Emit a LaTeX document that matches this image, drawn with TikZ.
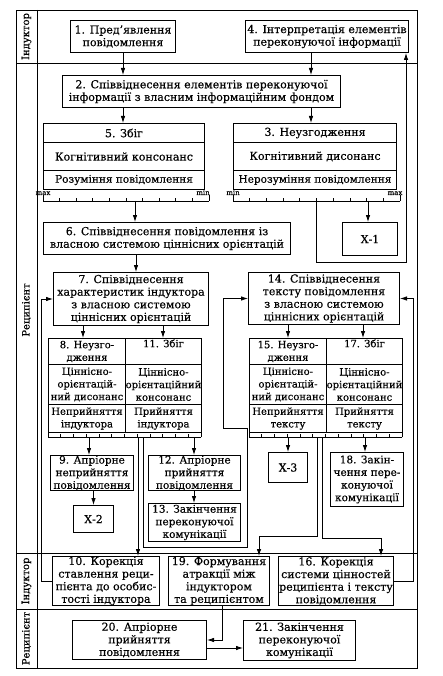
\documentclass[tikz,border=0pt]{standalone}
\usepackage{fontspec}
\setmainfont{DejaVu Serif}[FakeBold=0.4]
\usetikzlibrary{arrows.meta,calc}
\newcommand{\tickscale}[4]{%
  \draw[ln] (#1,#3) -- (#2,#3);
  \foreach \i in {0,...,#4} {\draw[ln] ({#1+(#2-#1)*\i/#4},#3) -- ++(0,-3);}
  \draw[ln] (#1,#3) -- ++(0,-6);
  \draw[ln] (#2,#3) -- ++(0,-6);
}
\begin{document}
\begin{tikzpicture}[x=1pt,y=-1pt,
  every node/.style={font=\fontsize{11}{12.6}\selectfont},
  box/.style={draw, line width=1pt, align=center, inner sep=0pt, anchor=north west},
  nar/.style={font=\fontsize{10}{12.6}\selectfont},
  mid/.style={font=\fontsize{10.5}{12.6}\selectfont},
  arr/.style={line width=0.8pt, -{Latex[length=7pt,width=4.5pt]}},
  ln/.style={line width=0.7pt},
  frm/.style={line width=0.8pt},
  lane/.style={rotate=90, font=\fontsize{10}{11}\selectfont},
  sc/.style={font=\fontsize{7}{8}\selectfont, inner sep=0pt, anchor=base},
]
\useasboundingbox (0,0) rectangle (443,676);

% frame and lanes
\draw[frm] (16,10) rectangle (417,668);
\draw[frm] (37,10) -- (37,668);
\draw[frm] (16,63) -- (417,63);
\draw[frm] (16,553) -- (417,553);
\draw[frm] (16,609) -- (417,609);
\node[lane] (l1) at (26.5,36.5) {Індуктор};
\node[lane] (l2) at (26.5,310) {Реципієнт};
\node[lane] (l3) at (26.5,581) {Індуктор};
\node[lane] (l4) at (26.5,638.5) {Реципієнт};

% top lane
\node[box, minimum width=105pt, minimum height=32pt] (b1) at (70,20) {1. Пред’явлення\\повідомлення};
\node[box, minimum width=163pt, minimum height=32pt] (b4) at (245,20) {4. Інтерпретація елементів\\переконуючої інформації};

% block 2
\node[box, minimum width=278pt, minimum height=32pt] (b2) at (62,75) {2. Співвіднесення елементів переконуючої\\інформації з власним інформаційним фондом};

% blocks 5 and 3
\node[box, minimum width=161pt, minimum height=19pt] (b5h) at (43,123) {5. Збіг};
\node[box, minimum width=161pt, minimum height=28pt] (b5m) at (43,142) {Когнітивний консонанс};
\node[box, mid, minimum width=161pt, minimum height=19pt] (b5b) at (43,170) {Розуміння повідомлення};
\node[box, minimum width=163pt, minimum height=19pt] (b3h) at (233,123) {3. Неузгодження};
\node[box, minimum width=163pt, minimum height=28pt] (b3m) at (233,142) {Когнітивний дисонанс};
\node[box, mid, minimum width=163pt, minimum height=19pt] (b3b) at (233,170) {Нерозуміння повідомлення};

\tickscale{43}{209}{201}{10}
\node[sc] (m5a) at (43,195) {max};
\node[sc] (m5b) at (203,195) {min};
\tickscale{233}{400}{201}{10}
\node[sc] (m3a) at (233,195) {min};
\node[sc] (m3b) at (395,195) {max};
\coordinate (s5) at (135,201);
\coordinate (s3a) at (368,201);
\coordinate (s3b) at (316,201);
\coordinate (c1) at (406,262);

% block 6 and X-1
\node[box, minimum width=247pt, minimum height=32pt] (b6) at (43,222) {6. Співвіднесення повідомлення із\\власною системою ціннісних орієнтацій};
\node[box, minimum width=55pt, minimum height=33pt] (x1) at (342,222) {Х-1};

% blocks 7 and 14
\node[box, minimum width=155pt, minimum height=53pt] (b7) at (53,272) {7. Співвіднесення\\характеристик індуктора\\з власною системою\\ціннісних орієнтацій};
\node[box, minimum width=151pt, minimum height=52pt] (b14) at (248,272) {14. Співвіднесення\\тексту повідомлення\\з власною системою\\ціннісних орієнтацій};

% blocks 8, 11
\node[box, nar, minimum width=77pt, minimum height=26pt] (b8h) at (48,338) {8. Неузго-\\дження};
\node[box, nar, minimum width=77pt, minimum height=40pt] (b8m) at (48,364) {Ціннісно-\\орієнтацій-\\ний дисонанс};
\node[box, nar, minimum width=77pt, minimum height=28pt] (b8b) at (48,404) {Неприйняття\\індуктора};
\node[box, nar, minimum width=76pt, minimum height=26pt] (b11h) at (125,338) {11. Збіг\\\strut};
\node[box, nar, minimum width=76pt, minimum height=40pt] (b11m) at (125,364) {Ціннісно-\\орієнтаційний\\консонанс};
\node[box, nar, minimum width=76pt, minimum height=28pt] (b11b) at (125,404) {Прийняття\\індуктора};

% blocks 15, 17
\node[box, nar, minimum width=77pt, minimum height=26pt] (b15h) at (249,338) {15. Неузго-\\дження};
\node[box, nar, minimum width=77pt, minimum height=40pt] (b15m) at (249,364) {Ціннісно-\\орієнтацій-\\ний дисонанс};
\node[box, nar, minimum width=77pt, minimum height=28pt] (b15b) at (249,404) {Неприйняття\\тексту};
\node[box, nar, minimum width=76pt, minimum height=26pt] (b17h) at (326,338) {17. Збіг\\\strut};
\node[box, nar, minimum width=76pt, minimum height=40pt] (b17m) at (326,364) {Ціннісно-\\орієнтаційний\\консонанс};
\node[box, nar, minimum width=76pt, minimum height=28pt] (b17b) at (326,404) {Прийняття\\тексту};

\tickscale{48}{201}{437}{12}
\tickscale{249}{402}{437}{12}
\coordinate (s8a) at (89,437);
\coordinate (s8b) at (138,437);
\coordinate (s8c) at (143,437);
\coordinate (s8d) at (194,437);
\coordinate (s15a) at (288,437);
\coordinate (s15b) at (317,437);
\coordinate (s15c) at (322,437);
\coordinate (s15d) at (365,437);
\coordinate (c2) at (247,547);
\coordinate (c3) at (223,428);
\coordinate (c4) at (259,536);
\coordinate (c5) at (381,538);

% lower blocks
\node[box, mid, minimum width=83pt, minimum height=35pt] (b9) at (50,455) {9. Апріорне\\неприйняття\\повідомлення};
\node[box, minimum width=40pt, minimum height=27pt] (x2) at (73,505) {Х-2};
\node[box, mid, minimum width=92pt, minimum height=35pt] (b12) at (148,455) {12. Апріорне\\прийняття\\повідомлення};
\node[box, mid, minimum width=92pt, minimum height=38pt] (b13) at (148,503) {13. Закінчення\\переконуючої\\комунікації};
\node[box, minimum width=39pt, minimum height=30pt] (x3) at (268,452) {Х-3};
\node[box, mid, minimum width=73pt, minimum height=54pt] (b18) at (330,452) {18. Закін-\\чення пере-\\конуючої\\комунікації};

% inductor lane (bottom)
\node[box, minimum width=107pt, minimum height=49pt] (b10) at (52,556) {10. Корекція\\ставлення реци-\\пієнта до особис-\\тості індуктора};
\node[box, minimum width=101pt, minimum height=49pt] (b19) at (168,556) {19. Формування\\атракції між\\індуктором\\та реципієнтом};
\node[box, minimum width=115pt, minimum height=49pt] (b16) at (278,556) {16. Корекція\\системи цінностей\\реципієнта і тексту\\повідомлення};

% recipient lane (bottom)
\node[box, minimum width=134pt, minimum height=39pt] (b20) at (72,620) {20. Апріорне\\прийняття\\повідомлення};
\node[box, minimum width=112pt, minimum height=40pt] (b21) at (243,620) {21. Закінчення\\переконуючої\\комунікації};

% connectors
\draw[arr] (b1.south) -- (b1.south |- b2.north);
\draw[arr] (311,0 |- b4.south) -- (311,0 |- b2.north);
\draw[arr] (123,0 |- b2.south) -- (123,0 |- b5h.north);
\draw[arr] (311,0 |- b2.south) -- (311,0 |- b3h.north);
\draw[arr] (s5) -- (s5 |- b6.north);
\draw[arr] (s3a) -- (s3a |- x1.north);
\draw[arr] (s3b) |- (c1) -- (c1 |- b4.south);
\draw[arr] (136,0 |- b6.south) -- (136,0 |- b7.north);
\draw[arr] (83,0 |- b7.south) -- (83,0 |- b8h.north);
\draw[arr] (163,0 |- b7.south) -- (163,0 |- b11h.north);
\draw[arr] (288,0 |- b14.south) -- (288,0 |- b15h.north);
\draw[arr] (363,0 |- b14.south) -- (363,0 |- b17h.north);
\draw[arr] (s8a) -- (s8a |- b9.north);
\draw[arr] (x2.north |- b9.south) -- (x2.north);
\draw[arr] (s8d) -- (s8d |- b12.north);
\draw[arr] (s8d |- b12.south) -- (s8d |- b13.north);
\draw[arr] (s8b) -- (s8b |- b10.north);
\draw[arr] (s8c) |- (c2) |- (c3) |- (b14.west);
\draw[arr] (b10.west) -- (41,0 |- b10.west) |- (b7.west);
\draw[arr] (b16.east) -- (413,0 |- b16.east) |- (b14.east);
\draw[arr] (s15a) -- (s15a |- x3.north);
\draw[arr] (s15d) -- (s15d |- b18.north);
\draw[arr] (s15b) |- (c4) -- (c4 |- b19.north);
\draw[arr] (s15c) |- (c5) -- (c5 |- b16.north);
\draw[arr] (222,0 |- b19.south) |- (b20.east);
\draw[arr] (b20.east |- 0,648) -- (b21.west |- 0,648);
\end{tikzpicture}
\end{document}
